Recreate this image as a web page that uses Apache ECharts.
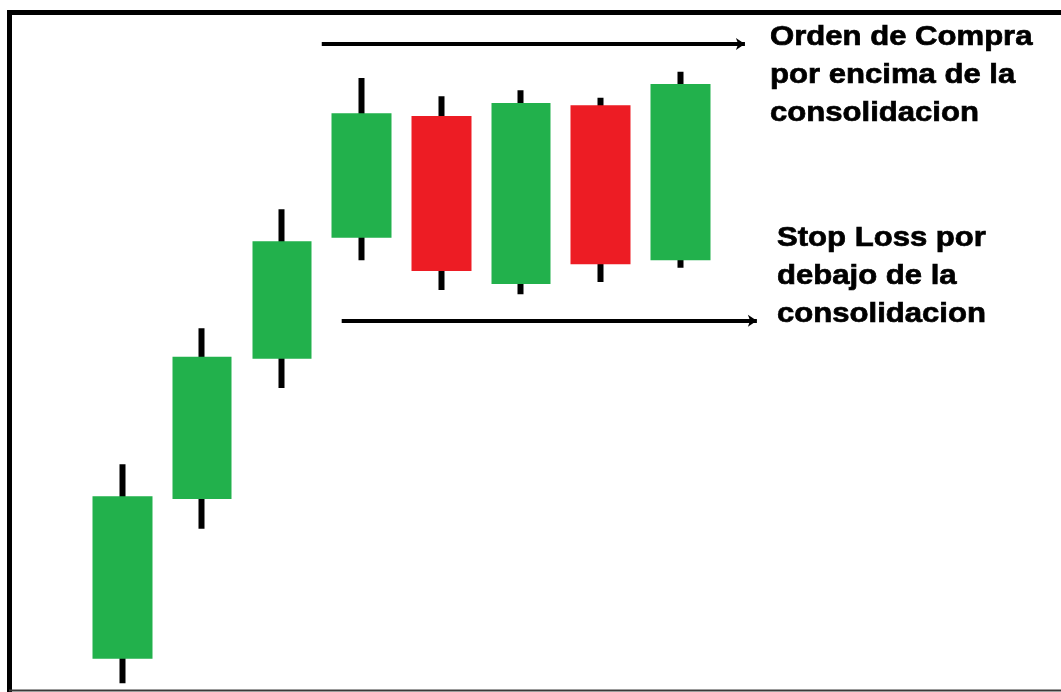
<!DOCTYPE html>
<html>
<head>
<meta charset="utf-8">
<title>Consolidación</title>
<script src="https://cdn.jsdelivr.net/npm/echarts@6/dist/echarts.min.js"></script>
<style>
  html, body { margin: 0; padding: 0; background: #ffffff; }
  #chart { width: 1061px; height: 692px; }
</style>
</head>
<body>
<div id="chart"></div>
<script>
// Session index of each candle
const sessions = [0, 1, 2, 3, 4, 5, 6, 7];
// Price per session
const opens  = [4.9, 28.4, 49.0, 66.8, 84.7, 60.0, 86.3, 63.5];
const closes = [28.8, 49.3, 66.3, 85.1, 61.9, 86.6, 62.9, 89.4];
const lows   = [1.3, 24.0, 44.7, 63.5, 59.1, 58.5, 60.3, 62.4];
const highs  = [33.5, 53.5, 71.0, 90.3, 87.6, 88.5, 87.4, 91.2];

// Order levels around the consolidation range
const buyLevel = 95.3;
const buySpan = [2.5, 7.81];
const stopLevel = 54.6;
const stopSpan = [2.75, 7.96];

// Annotation text
const buyText = ['Orden de Compra', 'por encima de la', 'consolidacion'];
const stopText = ['Stop Loss por', 'debajo de la', 'consolidacion'];

const UP = '#22B14C';
const DOWN = '#ED1C24';

const ohlc = sessions.map((s, i) => [s, opens[i], closes[i], lows[i], highs[i]]);

const chart = echarts.init(document.getElementById('chart'), null, { renderer: 'canvas' });

const textStyleBase = {
  fill: '#000',
  stroke: '#000',
  lineWidth: 0.7,
  font: 'bold 28px "Liberation Sans", Arial, sans-serif',
  lineHeight: 38,
  verticalAlign: 'top',
  align: 'left'
};

chart.setOption({
  animation: false,
  backgroundColor: '#ffffff',
  grid: { left: 3, right: 22, top: 12, bottom: 0, containLabel: false },
  xAxis: { type: 'value', min: -1.5, max: 11.5, show: false },
  yAxis: { type: 'value', min: 0, max: 100, show: false },
  graphic: [
    // outer frame: heavy left and top edges, thin bottom edge
    {
      type: 'polyline',
      shape: { points: [[9.5, 692], [9.5, 12.5], [1061, 12.5]] },
      style: { stroke: '#000', lineWidth: 5, fill: null },
      silent: true
    },
    {
      type: 'line',
      shape: { x1: 9, y1: 690.5, x2: 1061, y2: 690.5 },
      style: { stroke: '#3a3a3a', lineWidth: 2 },
      silent: true
    },
    {
      type: 'text',
      x: 770, y: 18.5, scaleX: 1.11,
      style: Object.assign({ text: buyText.join('\n') }, textStyleBase),
      silent: true
    },
    {
      type: 'text',
      x: 777, y: 219.5, scaleX: 1.11,
      style: Object.assign({ text: stopText.join('\n') }, textStyleBase),
      silent: true
    }
  ],
  series: [
    {
      // wicks
      type: 'candlestick',
      data: ohlc,
      encode: { x: 0, y: [1, 2, 3, 4] },
      barWidth: 0,
      z: 2,
      silent: true,
      itemStyle: {
        color: '#000', color0: '#000',
        borderColor: '#000', borderColor0: '#000',
        borderWidth: 6
      },
      emphasis: { disabled: true }
    },
    {
      // bodies
      type: 'candlestick',
      data: ohlc,
      encode: { x: 0, y: [1, 2, 3, 4] },
      barWidth: 60,
      z: 3,
      silent: true,
      itemStyle: {
        color: UP, color0: DOWN,
        borderColor: UP, borderColor0: DOWN,
        borderWidth: 0
      },
      emphasis: { disabled: true },
      markLine: {
        silent: true,
        symbol: ['none', 'arrow'],
        symbolSize: 9,
        label: { show: false },
        lineStyle: { color: '#000', width: 4, type: 'solid' },
        emphasis: { disabled: true },
        data: [
          [{ coord: [buySpan[0], buyLevel] }, { coord: [buySpan[1], buyLevel] }],
          [{ coord: [stopSpan[0], stopLevel] }, { coord: [stopSpan[1], stopLevel] }]
        ]
      }
    }
  ]
});
</script>
</body>
</html>
